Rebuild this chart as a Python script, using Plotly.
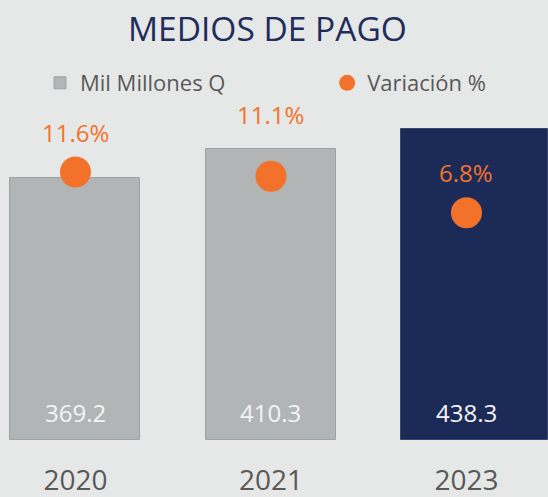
import plotly.graph_objects as go

years = ["2020", "2021", "2023"]
montos = [369.2, 410.3, 438.3]
variacion = [11.6, 11.1, 6.8]
monto_labels = ["369.2", "410.3", "438.3"]
var_labels = ["11.6%", "11.1%", "6.8%"]

BG = "#E6E8E7"
GRAY = "#B2B5B6"
NAVY = "#1C2A57"
ORANGE = "#F3722B"
TEXT_GRAY = "#595959"
FONT = "Open Sans"

bar_colors = [GRAY, GRAY, NAVY]
bar_lines = ["#9FA2A3", "#9FA2A3", "#3A4770"]
bar_widths = [0.665, 0.665, 0.747]
bar_offsets = [-0.3325, -0.3325, -0.3325]
var_shift = [40, 62, 40]

fig = go.Figure()
fig.add_trace(go.Bar(
    x=years, y=montos, name="Mil Millones Q",
    marker=dict(color=bar_colors, line=dict(color=bar_lines, width=1)),
    width=bar_widths, offset=bar_offsets,
    hoverinfo="skip", legend="legend",
))
fig.add_trace(go.Scatter(
    x=years, y=variacion, name="Variación %", yaxis="y2",
    mode="markers",
    marker=dict(size=31, color=ORANGE),
    cliponaxis=False, hoverinfo="skip", legend="legend2",
))

annotations = []
for i, (v, lab) in enumerate(zip(montos, monto_labels)):
    annotations.append(dict(
        x=i, y=0, xref="x", yref="y", text=lab, showarrow=False,
        yanchor="middle", yshift=28,
        font=dict(family=FONT, size=24, color="#F4F4F4"),
    ))
for i, (v, lab, s) in enumerate(zip(variacion, var_labels, var_shift)):
    annotations.append(dict(
        x=i, y=v, xref="x", yref="y2", text=lab, showarrow=False,
        yanchor="middle", yshift=s,
        font=dict(family=FONT, size=24, color=ORANGE),
    ))

hidden_axis = dict(showgrid=False, zeroline=False, showline=False,
                   showticklabels=False, ticks="", automargin=False)

fig.update_layout(
    width=548, height=497,
    paper_bgcolor=BG, plot_bgcolor=BG,
    margin=dict(l=0, r=0, t=0, b=57),
    title=dict(text="MEDIOS DE PAGO", x=0.488, xanchor="center",
               xref="container", y=1 - 29 / 497, yanchor="middle", yref="container",
               font=dict(family=FONT, size=33.5, color="#1F2D5C")),
    font=dict(family=FONT, color=TEXT_GRAY),
    showlegend=True,
    legend=dict(orientation="h", x=0.073, xanchor="left", y=1 - 83 / 440, yanchor="middle",
                font=dict(family=FONT, size=22, color=TEXT_GRAY),
                bgcolor="rgba(0,0,0,0)"),
    legend2=dict(orientation="h", x=0.597, xanchor="left", y=1 - 83 / 440, yanchor="middle",
                 font=dict(family=FONT, size=22, color=TEXT_GRAY),
                 bgcolor="rgba(0,0,0,0)", itemsizing="trace"),
    xaxis=dict(type="category", range=[-0.386, 2.417], showgrid=False,
               zeroline=False, showline=False, ticks="outside", ticklen=15,
               tickcolor=BG, automargin=False,
               tickfont=dict(family=FONT, size=28, color=TEXT_GRAY)),
    yaxis=dict(range=[0, 620.8], **hidden_axis),
    yaxis2=dict(range=[-20, 31.88], overlaying="y", **hidden_axis),
    annotations=annotations,
    bargap=0,
)

fig.write_html("out.html", config={"displayModeBar": False},
               post_script="document.body.style.margin='0';")
